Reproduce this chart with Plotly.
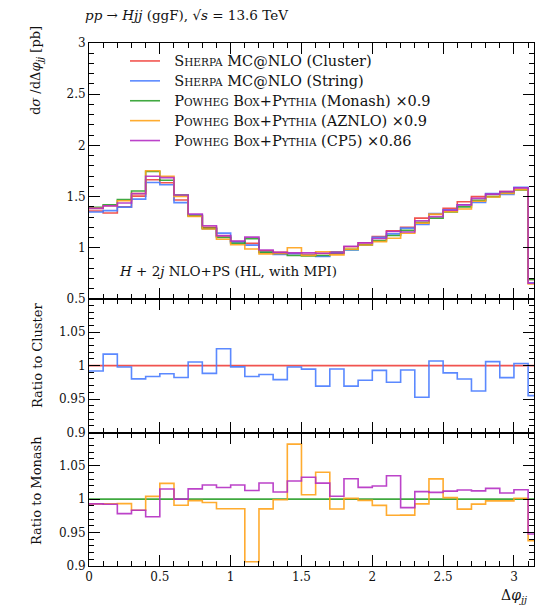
import numpy as np
import plotly.graph_objects as go
from plotly.subplots import make_subplots

# ---------------- data ----------------
bin_edges = [0.0, 0.1, 0.2, 0.3, 0.4, 0.5, 0.6, 0.7, 0.8, 0.9, 1.0, 1.1, 1.2, 1.3, 1.4, 1.5,
             1.6, 1.7, 1.8, 1.9, 2.0, 2.1, 2.2, 2.3, 2.4, 2.5, 2.6, 2.7, 2.8, 2.9, 3.0, 3.1, np.pi]

sherpa_cluster = [1.360, 1.340, 1.400, 1.505, 1.665, 1.635, 1.467, 1.315, 1.200, 1.115, 1.060,
                  1.043, 0.970, 0.955, 0.945, 0.935, 0.945, 0.960, 1.010, 1.050, 1.110, 1.165,
                  1.200, 1.290, 1.325, 1.385, 1.450, 1.500, 1.520, 1.550, 1.585, 0.690]
sherpa_string = [1.349, 1.363, 1.397, 1.475, 1.638, 1.615, 1.441, 1.322, 1.186, 1.143, 1.058,
                 1.026, 0.957, 0.935, 0.943, 0.930, 0.916, 0.955, 0.979, 1.027, 1.102, 1.136,
                 1.192, 1.229, 1.334, 1.370, 1.421, 1.443, 1.529, 1.522, 1.590, 0.659]
powheg_monash = [1.395, 1.420, 1.470, 1.555, 1.745, 1.660, 1.515, 1.310, 1.190, 1.100, 1.045,
                 1.090, 0.955, 0.945, 0.925, 0.920, 0.925, 0.945, 0.985, 1.030, 1.070, 1.120,
                 1.170, 1.250, 1.290, 1.350, 1.400, 1.465, 1.500, 1.535, 1.565, 0.690]
powheg_aznlo = [1.385, 1.410, 1.460, 1.529, 1.752, 1.699, 1.501, 1.307, 1.184, 1.084, 1.030,
                0.988, 0.941, 0.944, 1.001, 0.926, 0.962, 0.931, 0.986, 1.028, 1.060, 1.093,
                1.142, 1.241, 1.329, 1.353, 1.379, 1.454, 1.496, 1.531, 1.567, 0.647]
powheg_cp5 = [1.385, 1.409, 1.438, 1.529, 1.699, 1.685, 1.515, 1.330, 1.215, 1.119, 1.067,
              1.104, 0.978, 0.955, 0.950, 0.950, 0.947, 0.949, 1.015, 1.048, 1.091, 1.159,
              1.155, 1.264, 1.303, 1.366, 1.419, 1.483, 1.524, 1.549, 1.587, 0.654]

x_ticks = [0, 0.5, 1, 1.5, 2, 2.5, 3]

FS = 14.5   # legend main text size
SC = 10.5   # small-caps size
def big(s):
    return f"<span style='font-size:{FS}px'>{s}</span>"
def sc(s):
    return f"<span style='font-size:{SC}px'>{s}</span>"
pad = big("\u00a0\u00a0")
sherpa = pad + big("S") + sc("HERPA")
powheg = pad + big("P") + sc("OWHEG") + big(" B") + sc("OX") + big("+P") + sc("YTHIA")
names = [
    sherpa + big(" MC@NLO (Cluster)"),
    sherpa + big(" MC@NLO (String)"),
    powheg + big(" (Monash) ×0.9"),
    powheg + big(" (AZNLO) ×0.9"),
    powheg + big(" (CP5) ×0.86"),
]
colors = ["#f0413c", "#4a7dff", "#2ca02c", "#ffa31a", "#b52fc4"]
series = [sherpa_cluster, sherpa_string, powheg_monash, powheg_aznlo, powheg_cp5]

# ---------------- figure ----------------
W, H = 545, 610
L, R, T, B = 89, 11, 43, 44
ph = H - T - B
def py(pix):  # pixel y -> paper
    return (H - B - pix) / ph
def px(pix):
    return (pix - L) / (W - L - R)

fig = make_subplots(rows=3, cols=1, shared_xaxes=True, vertical_spacing=0)

def step(vals):
    return list(vals) + [vals[-1]]

LW = 1.6
for i, (vals, col, nm) in enumerate(zip(series, colors, names)):
    fig.add_trace(go.Scatter(x=bin_edges, y=step(vals), mode="lines", line=dict(color=col, width=LW, shape="hv"),
                             name=nm, legendgroup=f"g{i}", opacity=0.9), row=1, col=1)

ref_c = np.array(sherpa_cluster)
for vals, col in [(sherpa_cluster, colors[0]), (sherpa_string, colors[1])]:
    fig.add_trace(go.Scatter(x=bin_edges, y=step(list(np.array(vals) / ref_c)), mode="lines",
                             line=dict(color=col, width=LW, shape="hv"), showlegend=False, opacity=0.9), row=2, col=1)
ref_m = np.array(powheg_monash)
for vals, col in [(powheg_monash, colors[2]), (powheg_aznlo, colors[3]), (powheg_cp5, colors[4])]:
    fig.add_trace(go.Scatter(x=bin_edges, y=step(list(np.array(vals) / ref_m)), mode="lines",
                             line=dict(color=col, width=LW, shape="hv"), showlegend=False, opacity=0.9), row=3, col=1)

common = dict(showline=True, linecolor="black", linewidth=1, mirror="ticks", ticks="inside", ticklen=11,
              tickwidth=1, tickcolor="black", showgrid=False, zeroline=False,
              tickfont=dict(size=12, color="#111111"),
              minor=dict(ticks="inside", ticklen=5, tickwidth=1, tickcolor="black", showgrid=False))

for r in (1, 2, 3):
    fig.update_xaxes(range=[0, np.pi], tickmode="array", tickvals=x_ticks, **common, row=r, col=1)
    fig.update_xaxes(minor_dtick=0.1, minor_tick0=0, row=r, col=1)

fig.update_yaxes(range=[0.5, 3.0], dtick=0.5, tick0=0.5, **common, row=1, col=1)
fig.update_yaxes(minor_dtick=0.1, minor_tick0=0.5, row=1, col=1)
for r in (2, 3):
    fig.update_yaxes(range=[0.9, 1.0995], dtick=0.05, tick0=0.9, **common, row=r, col=1)
    fig.update_yaxes(minor_dtick=0.01, minor_tick0=0.9, row=r, col=1)

fig.update_layout(
    yaxis=dict(domain=[py(299), 1.0]),
    yaxis2=dict(domain=[py(432.5), py(299)]),
    yaxis3=dict(domain=[0.0, py(432.5)]),
)

ann = []
ann.append(dict(text="<i>pp</i> → <i>Hjj</i> (ggF), √<i>s</i> = 13.6 TeV", x=px(83), y=py(15),
                xanchor="left", yanchor="middle", font=dict(size=13.5)))
ann.append(dict(text="<i>H</i> + 2<i>j</i> NLO+PS (HL, with MPI)", x=px(117), y=py(271),
                xanchor="left", yanchor="middle", font=dict(size=13.5)))
ann.append(dict(text="Δ<i>φ</i><sub><i>jj</i></sub>", x=px(529), y=py(596),
                xanchor="right", yanchor="middle", font=dict(size=14)))
ann.append(dict(text="d<i>σ</i> /dΔ<i>φ</i><sub><i>jj</i></sub> [pb]", x=px(37), y=py(71), textangle=-90,
                xanchor="center", yanchor="middle", font=dict(size=13)))
ann.append(dict(text="Ratio to Cluster", x=px(37), y=py(356), textangle=-90,
                xanchor="center", yanchor="middle", font=dict(size=13)))
ann.append(dict(text="Ratio to Monash", x=px(37), y=py(491), textangle=-90,
                xanchor="center", yanchor="middle", font=dict(size=13)))
for a in ann:
    a.update(xref="paper", yref="paper", showarrow=False)

fig.update_layout(
    width=W, height=H, margin=dict(l=L, r=R, t=T, b=B, autoexpand=False),
    paper_bgcolor="white", plot_bgcolor="white",
    font=dict(family="DejaVu Serif", size=13, color="#111111"),
    annotations=ann,
    showlegend=True,
    legend=dict(x=px(125), y=py(46), xanchor="left", yanchor="top", bgcolor="rgba(0,0,0,0)",
                font=dict(size=13), tracegroupgap=0, itemwidth=30),
)

fig.write_html("out.html", config={"displayModeBar": False},
               post_script="document.body.style.margin='0';document.body.style.padding='0';")
